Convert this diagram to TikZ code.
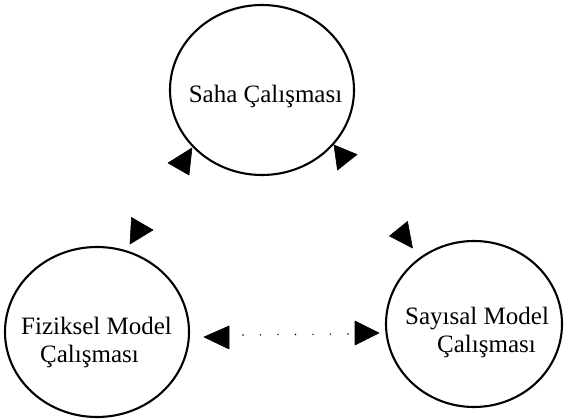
\documentclass[tikz,border=0pt]{standalone}
\usepackage{fontspec}
\setmainfont{Liberation Serif}
\usetikzlibrary{shapes.geometric}
\tikzset{
  blob/.style={ellipse, draw=black, line width=2.1pt, inner sep=0pt},
  lbl/.style={inner sep=0pt, font=\fontsize{25}{29}\selectfont},
  head/.style={fill=black, draw=black, line width=0.6pt, line join=round},
  dots/.style={line width=1.6pt, line cap=round, dash pattern=on 0pt off 17.5pt}
}
\begin{document}
\begin{tikzpicture}[x=1pt,y=-1pt]
\useasboundingbox (0,0) rectangle (565,419);
% circles
\node[blob, minimum width=184pt, minimum height=170pt] (saha) at (262,90) {};
\node[blob, minimum width=184pt, minimum height=170pt] (fiz) at (97,332) {};
\node[blob, minimum width=176pt, minimum height=166pt] (say) at (474,324) {};
% labels
\node[lbl, anchor=base] (sahatext) at (265.5,103) {Saha Çalışması};
\node[lbl, anchor=base west] (fiztext1) at (21,335) {Fiziksel Model};
\node[lbl, anchor=base west] (fiztext2) at (40,363) {Çalışması};
\node[lbl, anchor=base west] (saytext1) at (405,325) {Sayısal Model};
\node[lbl, anchor=base west] (saytext2) at (437,353) {Çalışması};
% arrowheads
\coordinate (t1) at (168,163);
\coordinate (t2) at (153,230);
\coordinate (t3) at (357,154.5);
\coordinate (t4) at (389.5,236);
\coordinate (t5) at (204,337);
\coordinate (t6) at (379,333);
\fill[head] (t1) -- (192,148) -- (189,175) -- cycle;
\fill[head] (t2) -- (131.5,217.5) -- (130,244) -- cycle;
\fill[head] (t3) -- (334,145) -- (337.5,170) -- cycle;
\fill[head] (t4) -- (407.5,221.5) -- (412.5,248) -- cycle;
\fill[head] (t5) -- (229,326) -- (229,349) -- cycle;
\fill[head] (t6) -- (355,321) -- (355,345) -- cycle;
% dotted connector between the lower circles
\coordinate (d1) at (243,335);
\coordinate (d2) at (350,334);
\draw[dots] (d1) -- (d2);
\end{tikzpicture}
\end{document}
